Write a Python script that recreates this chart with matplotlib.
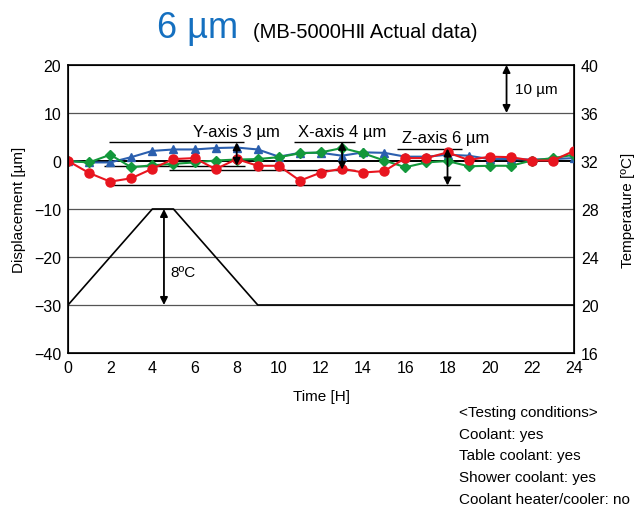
import matplotlib as mpl
mpl.use("Agg")
import matplotlib.pyplot as plt
import numpy as np

mpl.rcParams['font.family'] = ['Liberation Sans', 'DejaVu Sans']
mpl.rcParams['axes.unicode_minus'] = True

# data
hours = np.arange(0, 25)
x_axis = [0, -0.3, -0.3, 0.8, 2.1, 2.4, 2.4, 2.7, 2.8, 2.4, 0.9, 1.7, 1.7,
          1.1, 1.8, 1.7, 0.9, 0.9, 1.3, 1.1, 0.4, 0.4, 0.3, 0.4, 0.6]
y_axis = [0, -0.3, 1.3, -1.3, -0.9, -0.6, -0.3, 0.1, 0.3, 0.4, 0.8, 1.6, 1.8,
          2.7, 1.6, 0.1, -1.3, -0.3, 0.0, -1.1, -1.0, -1.0, 0.1, 0.6, 1.3]
z_axis = [0, -2.5, -4.3, -3.6, -1.6, 0.4, 0.6, -1.7, 0.4, -1.0, -1.0, -4.1, -2.4,
          -1.6, -2.4, -2.1, 0.6, 0.6, 1.8, 0.2, 0.9, 0.8, 0.1, 0.1, 2.1]

temp_time = [0, 4, 5, 9, 24]
temp_vals = [20, 28, 28, 20, 20]

conditions = ["<Testing conditions>", "Coolant: yes", "Table coolant: yes",
              "Shower coolant: yes", "Coolant heater/cooler: no"]

BLUE = "#2b5fae"
GREEN = "#13983b"
RED = "#e8151f"

fig = plt.figure(figsize=(6.43, 5.06), dpi=100)
ax = fig.add_axes([0.1058, 0.3004, 0.7869, 0.5692])

# grid lines
for g in [10, -10, -20, -30]:
    ax.axhline(g, color="#555555", lw=0.9, zorder=1)
ax.axhline(0, color="black", lw=1.4, zorder=1)

ax.plot(hours, x_axis, color=BLUE, marker="^", ms=6, lw=1.5, zorder=4)
ax.plot(hours, y_axis, color=GREEN, marker="D", ms=5.5, lw=1.5, zorder=5)
ax.plot(hours, z_axis, color=RED, marker="o", ms=6.5, lw=1.5, zorder=6)

ax.set_xlim(0, 24)
ax.set_ylim(-40, 20)
ax.set_xticks(range(0, 25, 2))
ax.set_yticks(range(-40, 21, 10))
ax.tick_params(length=0, labelsize=11.5, pad=5)
ax.set_xlabel("Time [H]", fontsize=11, labelpad=10)
ax.set_ylabel("Displacement [µm]", fontsize=11, labelpad=6)
for s in ax.spines.values():
    s.set_linewidth(1.2)

# temperature on twin axis
ax2 = ax.twinx()
ax2.plot(temp_time, temp_vals, color="black", lw=1.2)
ax2.set_ylim(16, 40)
ax2.set_yticks(range(16, 41, 4))
ax2.tick_params(length=0, labelsize=11.5, pad=5)
ax2.set_ylabel("Temperature [ºC]", fontsize=11, labelpad=16)

# annotation lines for the axis ranges
lw_a = 1.0
ax.hlines(3.9, 1.95, 8.35, color="black", lw=lw_a, zorder=3)
ax.hlines(-1.0, 1.7, 8.4, color="black", lw=lw_a, zorder=3)
ax.hlines(4.0, 10.7, 13.6, color="black", lw=lw_a, zorder=3)
ax.hlines(-1.8, 4.8, 13.6, color="black", lw=lw_a, zorder=3)
ax.hlines(2.6, 15.6, 18.7, color="black", lw=lw_a, zorder=3)
ax.hlines(-5.1, 1.95, 18.6, color="black", lw=lw_a, zorder=3)

arrow = dict(arrowstyle="<|-|>", color="black", lw=1.3, mutation_scale=11,
             shrinkA=0, shrinkB=0)
ax.annotate("", xy=(8, 3.9), xytext=(8, -1.0), arrowprops=arrow, zorder=7)
ax.annotate("", xy=(13, 4.0), xytext=(13, -1.8), arrowprops=arrow, zorder=7)
ax.annotate("", xy=(18, 2.6), xytext=(18, -5.1), arrowprops=arrow, zorder=7)
ax.annotate("", xy=(20.8, 20), xytext=(20.8, 10), arrowprops=arrow)
ax.annotate("", xy=(4.55, -10), xytext=(4.55, -30), arrowprops=arrow)

ax.text(8.0, 6.2, "Y-axis 3 µm", ha="center", va="center", fontsize=12)
ax.text(13.0, 6.2, "X-axis 4 µm", ha="center", va="center", fontsize=12)
ax.text(17.9, 4.8, "Z-axis 6 µm", ha="center", va="center", fontsize=12)
ax.text(21.2, 15, "10 µm", ha="left", va="center", fontsize=11)
ax.text(4.85, -23.1, "8ºC", ha="left", va="center", fontsize=11)

# title
fig.text(0.244, 0.925, "6 µm", color="#1570c0", fontsize=26, ha="left", va="baseline")
fig.text(0.393, 0.925, "(MB-5000HⅡ Actual data)", fontsize=14.5, ha="left", va="baseline")

# testing conditions
for i, line in enumerate(conditions):
    fig.text(0.714, 0.184 - i * 0.043, line, fontsize=11, ha="left", va="center")

fig.savefig("out.png", dpi=100)
